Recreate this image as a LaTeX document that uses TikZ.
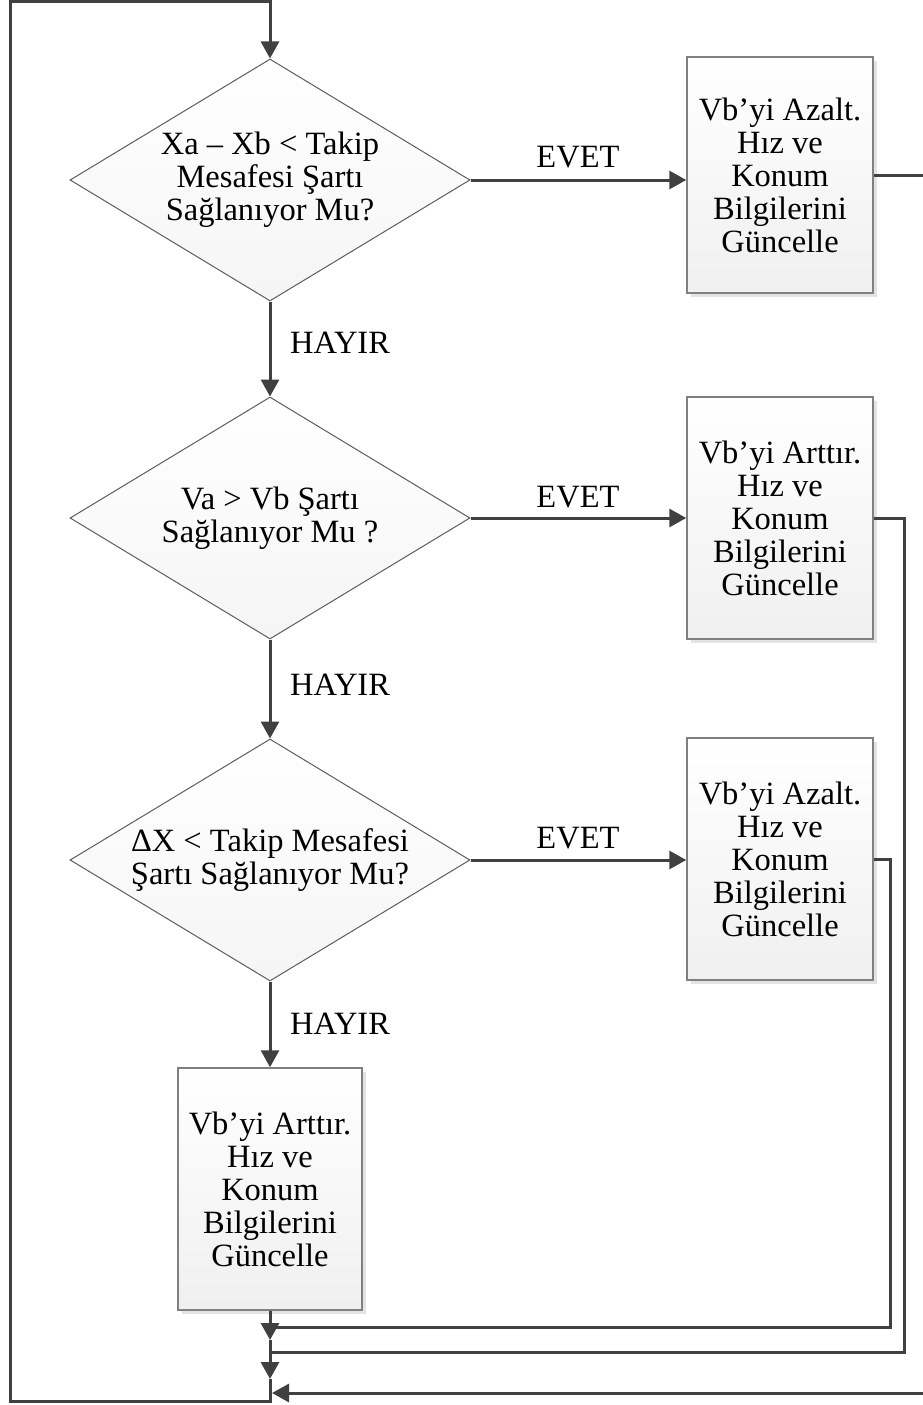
\documentclass[tikz,border=0pt]{standalone}
\usepackage{fontspec}
\setmainfont{Liberation Serif}
\usetikzlibrary{shapes.geometric, arrows.meta, shadows}
\definecolor{linegray}{HTML}{404040}
\definecolor{boxgray}{HTML}{808080}

\begin{document}
\begin{tikzpicture}[x=1pt, y=-1pt, font=\fontsize{32.5}{33}\selectfont,
  decision/.style={diamond, aspect=1.65, draw=linegray!85, line width=1pt, top color=white, bottom color=gray!8, inner sep=0pt, minimum width=400pt, minimum height=242pt, align=center},
  update/.style={rectangle, draw=boxgray, line width=1.5pt, top color=white, bottom color=gray!12, minimum width=186pt, minimum height=242pt, align=center, drop shadow={shadow xshift=4pt, shadow yshift=-4pt, fill=gray!22, opacity=1}},
  flow/.style={draw=linegray, line width=3pt, -{Triangle[width=18pt,length=17pt]}},
  line/.style={draw=linegray, line width=3pt},
  tag/.style={inner sep=0pt}]
  \useasboundingbox (0,0) rectangle (923,1405);
  \clip (0,0) rectangle (923,1405);
  \fill[white] (0,0) rectangle (923,1405);
  % decisions
  \node[decision] (dec1) at (270,180) {Xa – Xb < Takip\\Mesafesi Şartı\\Sağlanıyor Mu?};
  \node[decision] (dec2) at (270,518) {Va > Vb Şartı\\Sağlanıyor Mu ?};
  \node[decision] (dec3) at (270,860) {ΔX < Takip Mesafesi\\Şartı Sağlanıyor Mu?};
  % updates
  \node[update, minimum height=236pt] (upd1) at (780,175) {Vb’yi Azalt.\\Hız ve\\Konum\\Bilgilerini\\Güncelle};
  \node[update] (upd2) at (780,518) {Vb’yi Arttır.\\Hız ve\\Konum\\Bilgilerini\\Güncelle};
  \node[update] (upd3) at (780,859) {Vb’yi Azalt.\\Hız ve\\Konum\\Bilgilerini\\Güncelle};
  \node[update, minimum width=184pt] (upd4) at (270,1189) {Vb’yi Arttır.\\Hız ve\\Konum\\Bilgilerini\\Güncelle};
  % labels
  \node[tag] (yes1) at (578,157) {EVET};
  \node[tag] (yes2) at (578,497) {EVET};
  \node[tag] (yes3) at (578,838) {EVET};
  \node[tag] (no1) at (340,343) {HAYIR};
  \node[tag] (no2) at (340,685) {HAYIR};
  \node[tag] (no3) at (340,1024) {HAYIR};
  % joints
  \coordinate (j1) at (270,1327);
  \coordinate (a1) at (270,1340);
  \coordinate (j2) at (270,1352);
  \coordinate (a2) at (270,1379);
  \coordinate (j3) at (272,1393);
  \coordinate (base) at (270,1401);
  \coordinate (r1) at (935,1393);
  \coordinate (r2) at (904,1352);
  \coordinate (r3) at (890,1327);
  \coordinate (top) at (10,2);
  % connectors
  \draw[flow] (dec1.east) -- (dec1.east -| upd1.west);
  \draw[flow] (dec2.east) -- (upd2.west);
  \draw[flow] (dec3.east) -- (dec3.east -| upd3.west);
  \draw[flow] (dec1.south) -- (dec2.north);
  \draw[flow] (dec2.south) -- (dec3.north);
  \draw[flow] (dec3.south) -- (upd4.north);
  \draw[line] (upd3.east) -| (r3) -- (j1);
  \draw[line] (upd2.east) -| (r2) -- (j2);
  \draw[flow] (upd1.east) -| (r1) -- (j3);
  \draw[flow] (upd4.south) -- (a1);
  \draw[flow] (a1) -- (a2);
  \draw[flow] (a2) -- (base) -| (top) -| (dec1.north);
\end{tikzpicture}
\end{document}
